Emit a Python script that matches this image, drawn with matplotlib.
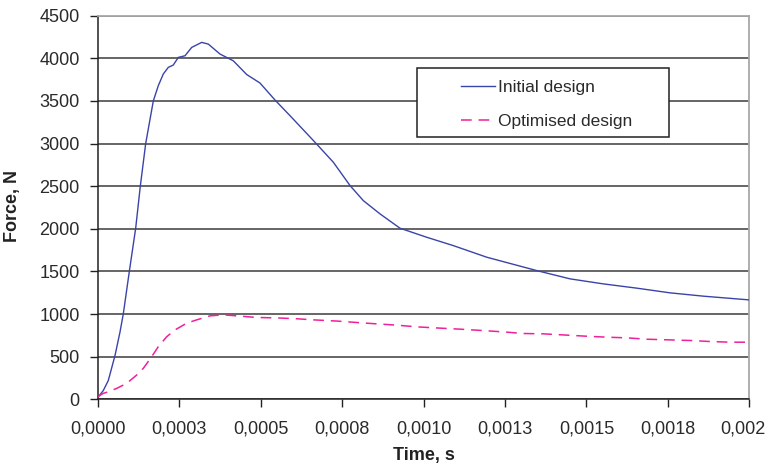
import matplotlib
matplotlib.use("Agg")
import matplotlib.pyplot as plt
import matplotlib.transforms as mtransforms
from matplotlib.patches import Rectangle

plt.rcParams['font.family'] = ['Liberation Sans', 'DejaVu Sans']

# data (time in s, force in N)
t_initial = [0.0, 0.0000172, 0.0000325, 0.0000531, 0.0000684, 0.0000786, 0.0000970,
             0.0001166, 0.0001308, 0.0001473, 0.0001707, 0.0001860, 0.0002014,
             0.0002167, 0.0002320, 0.0002474, 0.0002680, 0.0002885, 0.0003192,
             0.0003395, 0.0003754, 0.0004162, 0.0004573, 0.0004982, 0.0005442,
             0.0005903, 0.0006670, 0.0007232, 0.0007745, 0.0008152, 0.0008665,
             0.0009279, 0.0010098, 0.0010915, 0.0011940, 0.0013475, 0.0014497,
             0.0015519, 0.0016544, 0.0017566, 0.0018588, 0.0019970]
f_initial = [20, 103, 220, 513, 788, 1002, 1498,
             2007, 2500, 3000, 3500, 3679, 3816,
             3894, 3921, 4011, 4030, 4128, 4187,
             4167, 4050, 3971, 3810, 3710, 3511,
             3327, 3015, 2781, 2507, 2331, 2175,
             2007, 1901, 1803, 1667, 1510, 1413,
             1354, 1304, 1249, 1210, 1167]

t_optim = [0.0, 0.0000172, 0.0000325, 0.0000583, 0.0000890, 0.0001197, 0.0001400,
           0.0001657, 0.0001860, 0.0002118, 0.0002373, 0.0002732, 0.0003039,
           0.0003447, 0.0003855, 0.0004266, 0.0004880, 0.0005494, 0.0006108,
           0.0006618, 0.0007336, 0.0007950, 0.0008564, 0.0009178, 0.0009791,
           0.0010507, 0.0011121, 0.0011633, 0.0012450, 0.0013063, 0.0013677,
           0.0014396, 0.0014957, 0.0015623, 0.0016237, 0.0016851, 0.0017566,
           0.0018180, 0.0018794, 0.0019408, 0.0019970]
f_optim = [30, 70, 88, 128, 187, 285, 363,
           500, 617, 734, 814, 893, 932,
           979, 991, 979, 960, 955, 945,
           932, 918, 901, 885, 870, 850,
           835, 823, 811, 791, 772, 768,
           753, 741, 729, 721, 705, 697,
           690, 678, 670, 670]

x_ticks = [0, 0.00025, 0.0005, 0.00075, 0.001, 0.00125, 0.0015, 0.00175, 0.002]
x_labels = ['0,0000', '0,0003', '0,0005', '0,0008', '0,0010', '0,0013', '0,0015', '0,0018', '0,002']
y_ticks = list(range(0, 4501, 500))

fig = plt.figure(figsize=(7.68, 4.70), dpi=100)
ax = fig.add_axes([0.1272, 0.1504, 0.8485, 0.8162])

ax.plot(t_initial, f_initial, color='#3a44a8', lw=1.0, label='Initial design', zorder=3)
ax.plot(t_optim, f_optim, color='#f0209a', lw=1.1, ls=(0, (7, 4.5)),
        label='Optimised design', zorder=3)

ax.set_xlim(0, 0.002)
ax.set_ylim(0, 4500)
ax.set_xticks(x_ticks)
ax.set_xticklabels(x_labels)
ax.set_yticks(y_ticks)

ax.yaxis.grid(True, color='#3c3c3c', lw=1.1)
ax.set_axisbelow(True)
ax.tick_params(axis='both', direction='out', length=6, width=1, color='#222222',
               labelsize=13, labelcolor='#2a2a2a')
ax.tick_params(axis='y', pad=7)
ax.tick_params(axis='x', pad=9)

# last x label sits a little left so it stays inside the picture
last = ax.get_xticklabels()[-1]
last.set_transform(last.get_transform() +
                   mtransforms.ScaledTranslation(-6 / 100, 0, fig.dpi_scale_trans))

for side in ['left', 'bottom']:
    ax.spines[side].set_color('#222222')
    ax.spines[side].set_linewidth(1.1)
for side in ['top', 'right']:
    ax.spines[side].set_color('#a8a8a8')
    ax.spines[side].set_linewidth(1.3)

ax.set_xlabel('Time, s', fontsize=13, fontweight='bold', color='#222222')
ax.set_ylabel('Force, N', fontsize=13, fontweight='bold', color='#222222')
ax.xaxis.set_label_coords(0.5, -0.125)
ax.yaxis.set_label_coords(-0.117, 0.504)

# legend box
ax.add_patch(Rectangle((0.4905, 0.6846), 0.3867, 0.1783, transform=ax.transAxes,
                       facecolor='white', edgecolor='#222222', lw=1.1, zorder=2))
leg = ax.legend(loc='upper left', bbox_to_anchor=(0.557, 0.833), frameon=False,
                fontsize=12.5, handlelength=1.95, handletextpad=0.2,
                labelspacing=1.1, borderpad=0, borderaxespad=0)
for txt in leg.get_texts():
    txt.set_color('#2a2a2a')

fig.savefig('out.png', dpi=100)
